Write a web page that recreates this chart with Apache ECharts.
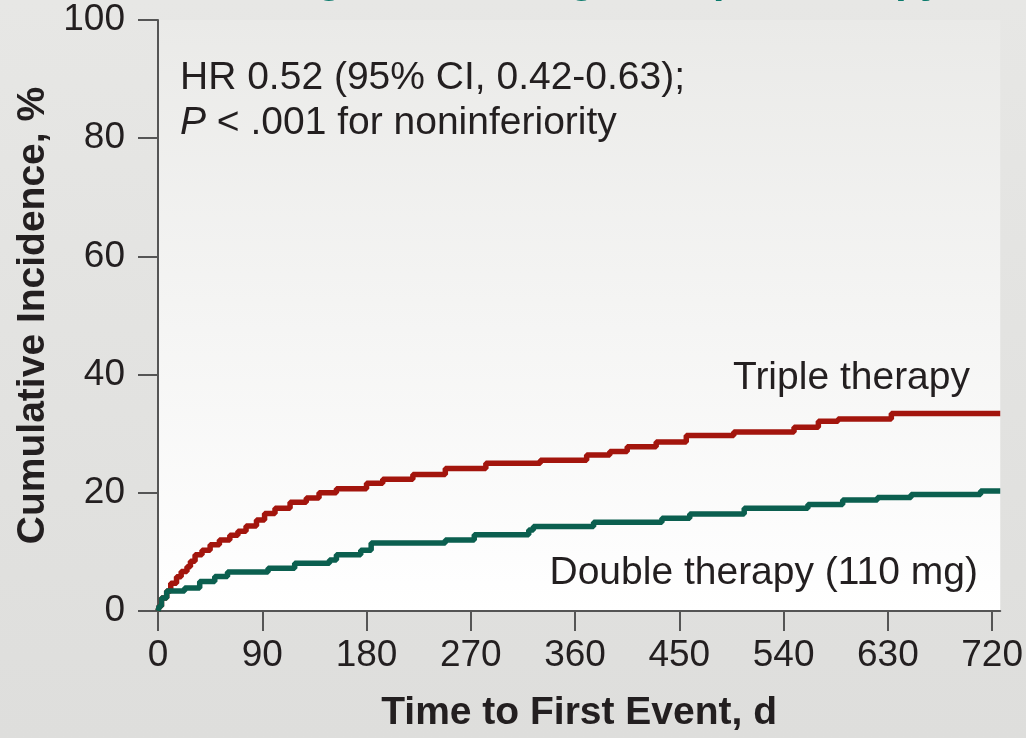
<!DOCTYPE html>
<html>
<head>
<meta charset="utf-8">
<script src="https://cdn.jsdelivr.net/npm/echarts@6/dist/echarts.min.js"></script>
<style>
  html, body { margin: 0; padding: 0; }
  #chart { width: 1026px; height: 738px; }
</style>
</head>
<body>
<div id="chart"></div>
<script>
// cumulative incidence (%)
var tripleDays = [0, 1, 3, 7.5, 11, 16, 20, 25, 28, 32, 38, 45, 53, 62, 69, 76, 85, 92, 101, 114, 128, 139, 154, 180, 194, 220, 248, 283, 330, 370, 390, 405, 430, 456, 497, 549, 570, 587, 633, 727];
var tripleIncidence = [0, 0.8, 2.2, 3.4, 4.7, 5.8, 6.7, 7.5, 8.4, 9.5, 10.3, 11.2, 12.0, 12.8, 13.5, 14.4, 15.4, 16.5, 17.4, 18.4, 19.1, 20.0, 20.7, 21.6, 22.3, 23.1, 24.1, 25.0, 25.5, 26.4, 27.0, 27.8, 28.6, 29.7, 30.3, 31.1, 32.1, 32.5, 33.4, 33.4];

var doubleDays = [0, 1, 3, 7.5, 23, 36, 49, 60, 95, 118, 148, 154, 175, 184, 248, 273, 320, 324, 376, 435, 459, 506, 561, 591, 621, 650, 710, 727];
var doubleIncidence = [0, 0.8, 2.2, 3.4, 3.9, 5.0, 5.85, 6.6, 7.25, 8.1, 8.65, 9.5, 10.3, 11.5, 12.0, 12.9, 13.7, 14.3, 15.0, 15.7, 16.4, 17.4, 18.0, 18.8, 19.2, 19.7, 20.3, 20.3];

var xTicks = [0, 90, 180, 270, 360, 450, 540, 630, 720];

var txt = '#231f20';
var font = 'Liberation Sans, Arial, sans-serif';

function pairs(xs, ys) {
    return xs.map(function (x, i) { return [x, ys[i]]; });
}

var chart = echarts.init(document.getElementById('chart'));
var option = {
    backgroundColor: new echarts.graphic.LinearGradient(0, 0, 0, 1, [
        { offset: 0, color: '#e7e7e5' },
        { offset: 1, color: '#dededc' }
    ]),
    animation: false,
    grid: {
        left: 158,
        right: 23,
        top: 20,
        bottom: 125,
        show: true,
        borderWidth: 0,
        backgroundColor: new echarts.graphic.LinearGradient(0, 0, 0, 1, [
            { offset: 0, color: '#eaeae8' },
            { offset: 1, color: '#ffffff' }
        ])
    },
    xAxis: {
        type: 'value',
        min: 0,
        max: 727,
        name: 'Time to First Event, d',
        nameLocation: 'middle',
        nameGap: 83,
        nameTextStyle: { fontFamily: font, fontWeight: 'bold', fontSize: 39, color: txt },
        axisLine: { show: true, lineStyle: { color: '#555', width: 2 } },
        axisTick: { show: true, length: 20, customValues: xTicks, lineStyle: { color: '#555', width: 2 } },
        axisLabel: { customValues: xTicks, margin: 26, fontFamily: font, fontSize: 37, color: txt },
        splitLine: { show: false }
    },
    yAxis: {
        type: 'value',
        min: 0,
        max: 100,
        interval: 20,
        name: 'Cumulative Incidence, %',
        nameLocation: 'middle',
        nameGap: 102,
        nameTextStyle: { fontFamily: font, fontWeight: 'bold', fontSize: 39, color: txt },
        axisLine: { show: true, lineStyle: { color: '#555', width: 2 } },
        axisTick: { show: true, length: 20, lineStyle: { color: '#555', width: 2 } },
        axisLabel: { margin: 33, fontFamily: font, fontSize: 37, color: txt },
        splitLine: { show: false }
    },
    series: [
        {
            name: 'Triple therapy',
            type: 'line',
            step: 'end',
            symbol: 'none',
            lineStyle: { color: '#a3150d', width: 5.5 },
            data: pairs(tripleDays, tripleIncidence)
        },
        {
            name: 'Double therapy (110 mg)',
            type: 'line',
            step: 'end',
            symbol: 'none',
            lineStyle: { color: '#0b5f4f', width: 5.5 },
            data: pairs(doubleDays, doubleIncidence)
        }
    ],
    graphic: [
        {
            type: 'text', x: 943, y: -18,
            style: { text: 'Bleeding With 110-mg vs Triple Therapy', font: 'bold 41px ' + font, fill: '#0b7a6c', align: 'right', verticalAlign: 'middle' }
        },
        {
            type: 'text', x: 180, y: 78,
            style: { text: 'HR 0.52 (95% CI, 0.42-0.63);', font: '39px ' + font, fill: txt, verticalAlign: 'middle' }
        },
        {
            type: 'text', x: 180, y: 123,
            style: {
                text: '{i|P} < .001 for noninferiority',
                font: '39px ' + font, fill: txt, verticalAlign: 'middle',
                rich: { i: { fontStyle: 'italic', fontSize: 39, fontFamily: font, fill: txt } }
            }
        },
        {
            type: 'text', x: 970, y: 378,
            style: { text: 'Triple therapy', font: '39px ' + font, fill: txt, align: 'right', verticalAlign: 'middle' }
        },
        {
            type: 'text', x: 978, y: 573,
            style: { text: 'Double therapy (110 mg)', font: '39px ' + font, fill: txt, align: 'right', verticalAlign: 'middle' }
        }
    ]
};
chart.setOption(option);
</script>
</body>
</html>
